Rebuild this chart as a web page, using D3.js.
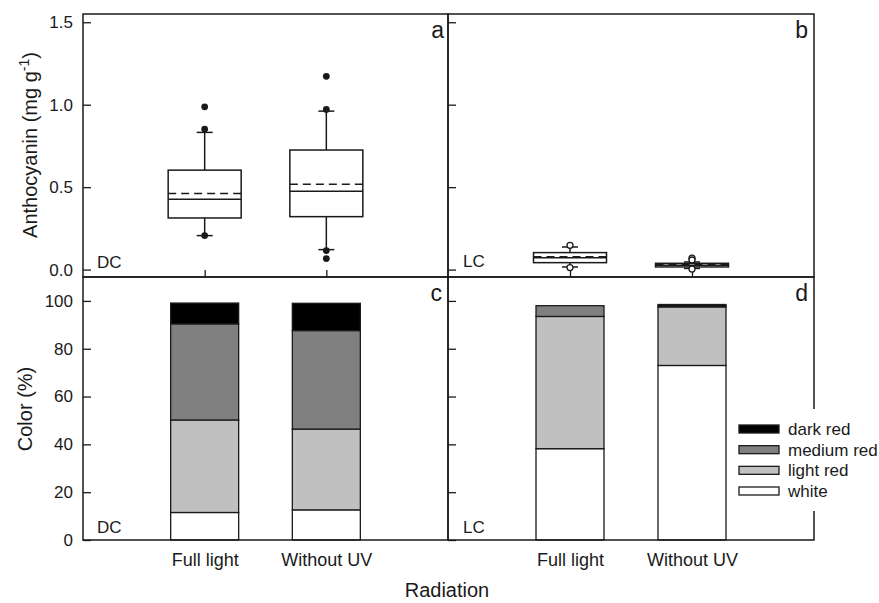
<!DOCTYPE html>
<html>
<head>
<meta charset="utf-8">
<script src="https://cdn.jsdelivr.net/npm/d3@7"></script>
<style>
  body { margin: 0; background: #fff; }
  svg { display: block; font-family: "Liberation Sans", Arial, sans-serif; }
</style>
</head>
<body>
<svg id="chart" width="879" height="603"></svg>
<script>
const categories = ['Full light', 'Without UV'];

// box plots, anthocyanin (mg g-1)
const dcQ1 = [0.313, 0.321];
const dcMedian = [0.426, 0.475];
const dcQ3 = [0.603, 0.725];
const dcMean = [0.462, 0.517];
const dcLow = [0.206, 0.121];
const dcHigh = [0.832, 0.961];
const dcOutliers = [[0.987, 0.852, 0.206], [1.172, 0.971, 0.115, 0.067]];

const lcQ1 = [0.042, 0.016];
const lcMedian = [0.072, 0.026];
const lcQ3 = [0.103, 0.038];
const lcMean = [0.078, 0.029];
const lcLow = [0.016, 0.007];
const lcHigh = [0.137, 0.046];
const lcOutliers = [[0.147, 0.012], [0.069, 0.058, 0.003]];

const anthoTicks = [0, 0.5, 1.0, 1.5];

// stacked colour classes (%)
const colorClasses = ['white', 'light red', 'medium red', 'dark red'];
const classFills = ['#ffffff', '#c0c0c0', '#808080', '#000000'];
const dcWhite = [11.5, 12.6];
const dcLight = [38.7, 33.8];
const dcMediumRed = [40.2, 41.2];
const dcDark = [8.7, 11.4];
const lcWhite = [38.2, 73.0];
const lcLight = [55.3, 24.5];
const lcMediumRed = [4.5, 0.4];
const lcDark = [0, 0.6];

const colorTicks = [0, 20, 40, 60, 80, 100];

const svg = d3.select('#chart');
const ink = '#1a1a1a';
const xLeft = 83, xMid = 448, xRight = 814;
const yTop = 14, ySplit = 277, yBottom = 540;

const yAntho = d3.scaleLinear().domain([-0.045, 1.55]).range([ySplit, yTop]);
const yColor = d3.scaleLinear().domain([0, 110]).range([yBottom, ySplit]);

function xScale(x0, x1) {
  return d3.scalePoint().domain(categories).range([x0, x1]).padding(1);
}

function boxPanel(x0, x1, q1, med, q3, mean, lo, hi, outl, filled, labels) {
  const x = xScale(x0, x1);
  const g = svg.append('g');

  g.append('g').attr('transform', `translate(${x0},0)`)
    .call(d3.axisLeft(yAntho).tickValues(anthoTicks).tickSize(-8).tickPadding(10)
      .tickFormat(labels ? d3.format('.1f') : ''))
    .call(a => a.select('.domain').remove())
    .call(a => a.selectAll('text').attr('font-size', 17).attr('fill', ink).attr('font-family', null))
    .call(a => a.selectAll('line').attr('stroke', ink).attr('stroke-width', 1.3));

  g.append('g').attr('transform', `translate(0,${ySplit})`)
    .call(d3.axisBottom(x).tickSize(-7).tickFormat(''))
    .call(a => a.select('.domain').remove())
    .call(a => a.selectAll('line').attr('stroke', ink).attr('stroke-width', 1.3));

  const bw = 73, cap = 16;
  categories.forEach((c, i) => {
    const cx = x(c);
    const s = g.append('g').attr('stroke', ink).attr('stroke-width', 1.5).attr('fill', 'none');
    s.append('line').attr('x1', cx).attr('x2', cx).attr('y1', yAntho(q3[i])).attr('y2', yAntho(hi[i]));
    s.append('line').attr('x1', cx).attr('x2', cx).attr('y1', yAntho(q1[i])).attr('y2', yAntho(lo[i]));
    s.append('line').attr('x1', cx - cap / 2).attr('x2', cx + cap / 2).attr('y1', yAntho(hi[i])).attr('y2', yAntho(hi[i]));
    s.append('line').attr('x1', cx - cap / 2).attr('x2', cx + cap / 2).attr('y1', yAntho(lo[i])).attr('y2', yAntho(lo[i]));
    s.append('rect').attr('x', cx - bw / 2).attr('width', bw)
      .attr('y', yAntho(q3[i])).attr('height', yAntho(q1[i]) - yAntho(q3[i])).attr('fill', '#fff');
    s.append('line').attr('x1', cx - bw / 2).attr('x2', cx + bw / 2).attr('y1', yAntho(med[i])).attr('y2', yAntho(med[i]));
    s.append('line').attr('x1', cx - bw / 2).attr('x2', cx + bw / 2).attr('y1', yAntho(mean[i])).attr('y2', yAntho(mean[i]))
      .attr('stroke-dasharray', '8,5');
    s.selectAll('circle').data(outl[i]).join('circle')
      .attr('cx', cx).attr('cy', d => yAntho(d))
      .attr('r', filled ? 3.4 : 3)
      .attr('fill', filled ? ink : '#fff')
      .attr('stroke-width', filled ? 0 : 1.3);
  });
}

function barPanel(x0, x1, series, labels) {
  const x = xScale(x0, x1);
  const g = svg.append('g');

  g.append('g').attr('transform', `translate(${x0},0)`)
    .call(d3.axisLeft(yColor).tickValues(colorTicks).tickSize(-8).tickPadding(10)
      .tickFormat(labels ? d3.format('d') : ''))
    .call(a => a.select('.domain').remove())
    .call(a => a.selectAll('text').attr('font-size', 17).attr('fill', ink).attr('font-family', null))
    .call(a => a.selectAll('line').attr('stroke', ink).attr('stroke-width', 1.3));

  g.append('g').attr('transform', `translate(0,${yBottom})`)
    .call(d3.axisBottom(x).tickSize(-7).tickPadding(13))
    .call(a => a.select('.domain').remove())
    .call(a => a.selectAll('text').attr('font-size', 18).attr('fill', ink).attr('font-family', null))
    .call(a => a.selectAll('line').attr('stroke', ink).attr('stroke-width', 1.3));

  const rows = categories.map((c, i) => {
    const r = { cat: c };
    colorClasses.forEach((k, j) => { r[k] = series[j][i]; });
    return r;
  });
  const stacked = d3.stack().keys(colorClasses)(rows);
  const bw = 68;
  g.selectAll('g.layer').data(stacked).join('g')
    .attr('class', 'layer')
    .attr('fill', (d, j) => classFills[j])
    .attr('stroke', ink).attr('stroke-width', 1.3)
    .selectAll('rect').data(d => d.filter(p => p[1] - p[0] > 0)).join('rect')
    .attr('x', d => x(d.data.cat) - bw / 2).attr('width', bw)
    .attr('y', d => yColor(d[1]))
    .attr('height', d => yColor(d[0]) - yColor(d[1]));
}

boxPanel(xLeft, xMid, dcQ1, dcMedian, dcQ3, dcMean, dcLow, dcHigh, dcOutliers, true, true);
boxPanel(xMid, xRight, lcQ1, lcMedian, lcQ3, lcMean, lcLow, lcHigh, lcOutliers, false, false);
barPanel(xLeft, xMid, [dcWhite, dcLight, dcMediumRed, dcDark], true);
barPanel(xMid, xRight, [lcWhite, lcLight, lcMediumRed, lcDark], false);

// frames
const frames = [[xLeft, yTop, xMid, ySplit], [xMid, yTop, xRight, ySplit], [xLeft, ySplit, xMid, yBottom], [xMid, ySplit, xRight, yBottom]];
svg.append('g').selectAll('rect').data(frames).join('rect')
  .attr('x', d => d[0]).attr('y', d => d[1])
  .attr('width', d => d[2] - d[0]).attr('height', d => d[3] - d[1])
  .attr('fill', 'none').attr('stroke', ink).attr('stroke-width', 1.5);

// panel letters and site tags
const letters = [['a', xMid - 4, 38], ['b', xRight - 6, 38], ['c', xMid - 6, 301], ['d', xRight - 6, 301]];
svg.append('g').selectAll('text').data(letters).join('text')
  .attr('x', d => d[1]).attr('y', d => d[2]).attr('text-anchor', 'end')
  .attr('font-size', 23).attr('fill', ink).text(d => d[0]);

const tags = [['DC', xLeft + 14, 268], ['LC', xMid + 15, 267], ['DC', xLeft + 14, 533], ['LC', xMid + 15, 533]];
svg.append('g').selectAll('text').data(tags).join('text')
  .attr('x', d => d[1]).attr('y', d => d[2])
  .attr('font-size', 17).attr('fill', ink).text(d => d[0]);

// legend
const legend = svg.append('g');
legend.append('rect').attr('x', 733).attr('y', 409).attr('width', 146).attr('height', 102).attr('fill', '#fff');
const legendOrder = colorClasses.slice().reverse();
const ly = d3.scalePoint().domain(legendOrder).range([429, 491]);
legendOrder.forEach(k => {
  const j = colorClasses.indexOf(k);
  legend.append('rect').attr('x', 739).attr('y', ly(k) - 4).attr('width', 40).attr('height', 8)
    .attr('fill', classFills[j]).attr('stroke', ink).attr('stroke-width', 1.3);
  legend.append('text').attr('x', 788).attr('y', ly(k) + 6)
    .attr('font-size', 17).attr('fill', ink).text(k);
});

// axis titles
const yt = svg.append('text').attr('transform', 'translate(37,145) rotate(-90)')
  .attr('text-anchor', 'middle').attr('font-size', 20).attr('fill', ink);
yt.append('tspan').text('Anthocyanin (mg g');
yt.append('tspan').attr('font-size', 14).attr('dy', -8).text('-1');
yt.append('tspan').attr('dy', 8).text(')');

svg.append('text').attr('transform', 'translate(32,409) rotate(-90)')
  .attr('text-anchor', 'middle').attr('font-size', 20).attr('fill', ink).text('Color (%)');

svg.append('text').attr('x', 447).attr('y', 597).attr('text-anchor', 'middle')
  .attr('font-size', 20).attr('fill', ink).text('Radiation');
</script>
</body>
</html>
